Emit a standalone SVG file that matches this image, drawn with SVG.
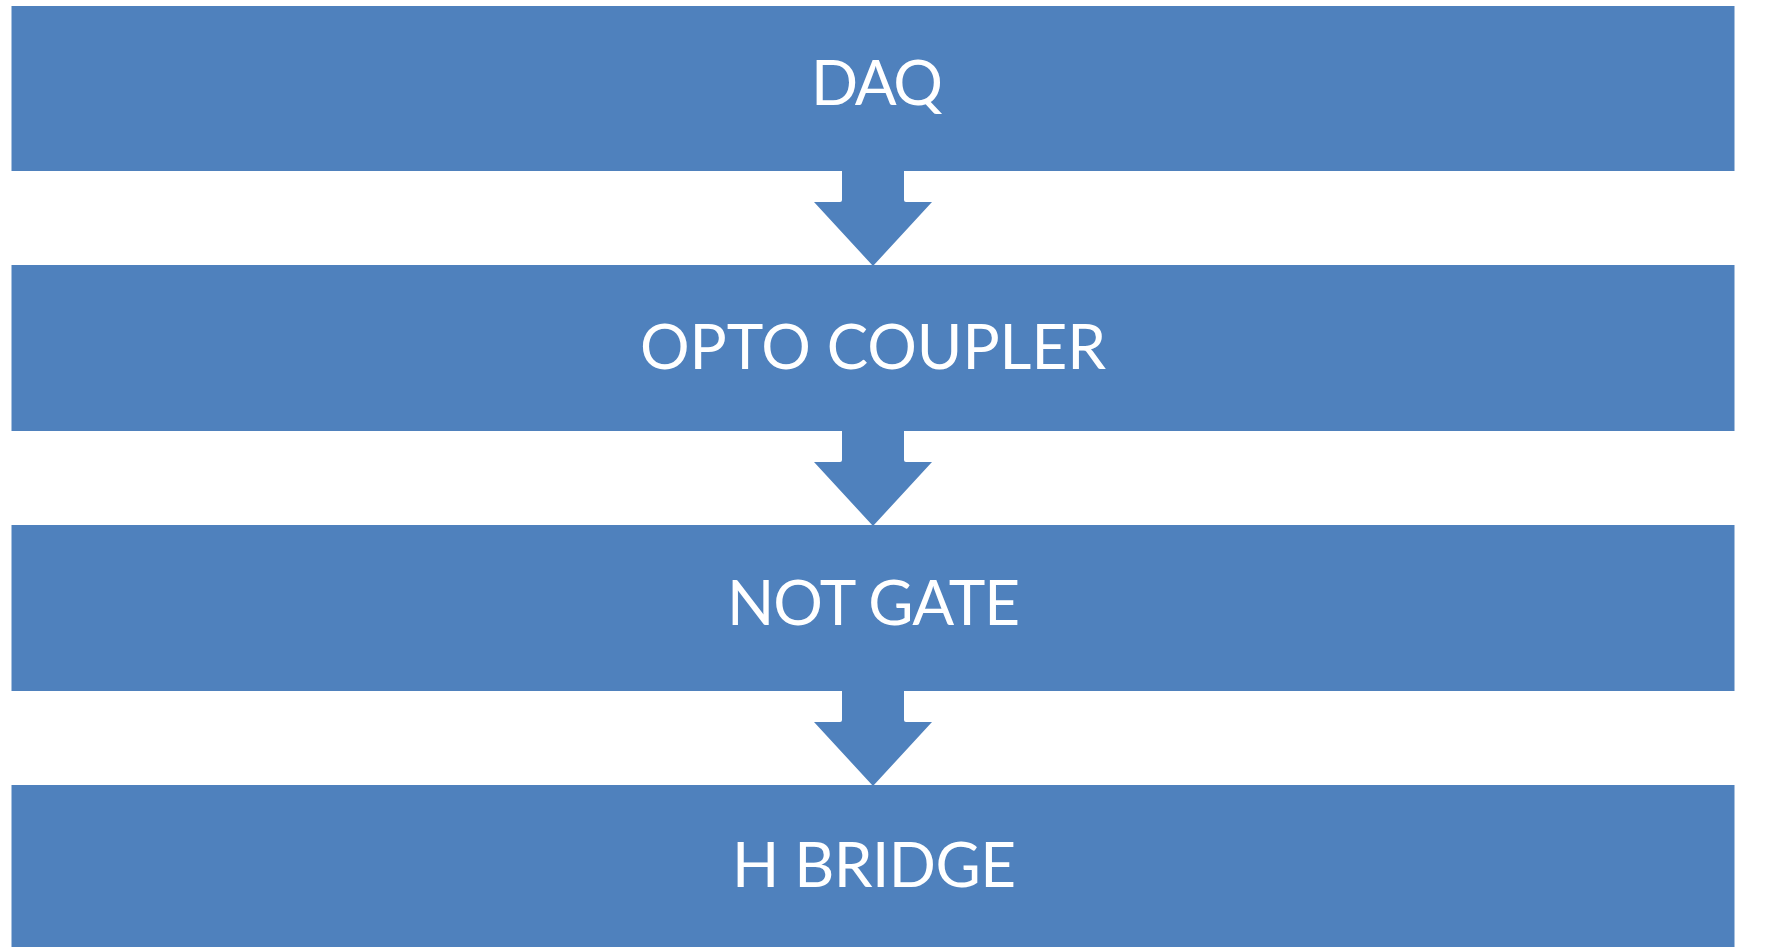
<svg xmlns="http://www.w3.org/2000/svg" width="1779" height="947" viewBox="0 0 1779 947">
  <style>
    .box { fill: #4F81BD; }
    .arrow { fill: #4F81BD; }
    .label { fill: #FFFFFF; font-family: Lato, "Open Sans", "Liberation Sans", sans-serif; font-size: 62px; }
  </style>
  <defs>
    <!-- down arrow: shaft from the box above, head touching the box below -->
    <path id="down" d="M842,-2 L904,-2 L904,29 Q904,31 906,31 L932,31 L873,95 L814,31 L840,31 Q842,31 842,29 Z"/>
  </defs>
  <rect width="1779" height="947" fill="#FFFFFF"/>

  <g id="daq">
    <rect class="box" x="11.5" y="6" width="1723" height="165"/>
    <text class="label" x="811" y="105" textLength="132" lengthAdjust="spacing">DAQ</text>
  </g>
  <g id="opto-coupler">
    <rect class="box" x="11.5" y="265" width="1723" height="166"/>
    <text class="label" x="640" y="369" textLength="466" lengthAdjust="spacing">OPTO COUPLER</text>
  </g>
  <g id="not-gate">
    <rect class="box" x="11.5" y="525" width="1723" height="166"/>
    <text class="label" x="727" y="625" textLength="293" lengthAdjust="spacing">NOT GATE</text>
  </g>
  <g id="h-bridge">
    <rect class="box" x="11.5" y="785" width="1723" height="170"/>
    <text class="label" x="732" y="887" textLength="284" lengthAdjust="spacing">H BRIDGE</text>
  </g>

  <g id="connectors">
    <use href="#down" class="arrow" transform="translate(0,171)"/>
    <use href="#down" class="arrow" transform="translate(0,431)"/>
    <use href="#down" class="arrow" transform="translate(0,691)"/>
  </g>
</svg>
